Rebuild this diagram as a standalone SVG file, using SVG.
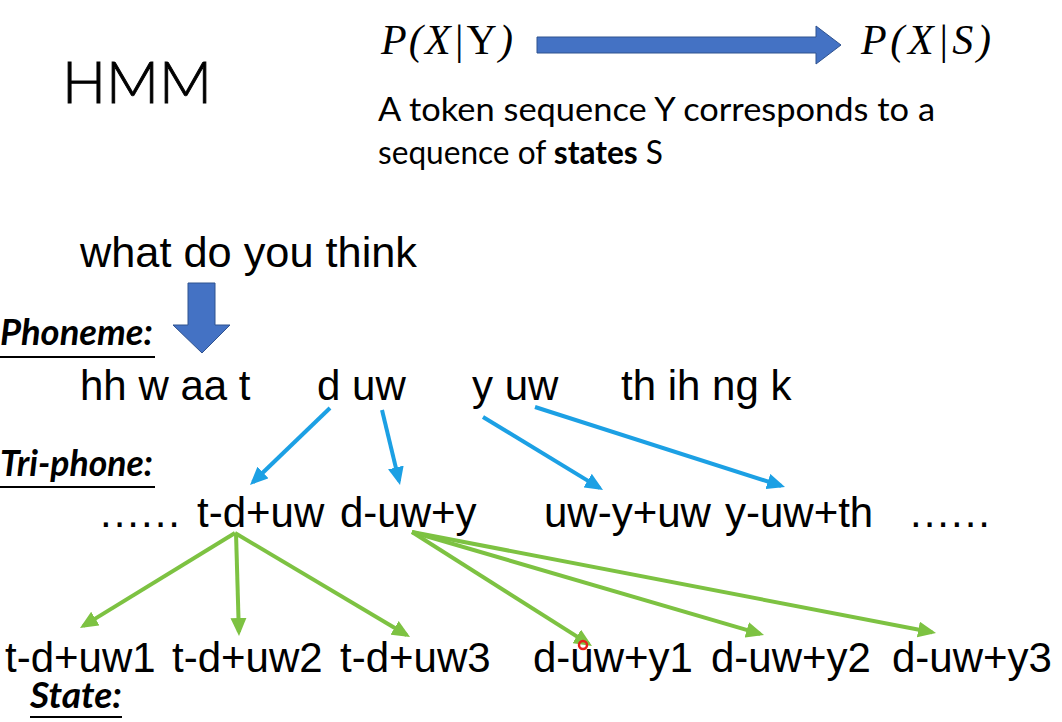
<svg xmlns="http://www.w3.org/2000/svg" width="1062" height="722" viewBox="0 0 1062 722">
<style>
.ar{font-family:"Liberation Sans",Arial,sans-serif;font-size:42px;fill:#000}
.cal{font-family:Lato,"Open Sans",sans-serif;fill:#000}
.lab{font-family:Lato,"Open Sans",sans-serif;font-size:36px;font-weight:bold;font-style:italic;fill:#000}
.math{font-family:"Liberation Serif","Times New Roman",serif;font-size:42px;font-style:italic;fill:#000}
.blue{stroke:#1CA0E4;stroke-width:4;fill:none;marker-end:url(#hb)}
.green{stroke:#7DC242;stroke-width:4;fill:none;marker-end:url(#hg)}
.big{fill:#4472C4;stroke:#2F528F;stroke-width:1}
</style>
<defs>
<marker id="hb" markerUnits="userSpaceOnUse" markerWidth="18" markerHeight="16" refX="14" refY="8" orient="auto"><path d="M0,0 L18,8 L0,16 z" fill="#1CA0E4"/></marker>
<marker id="hg" markerUnits="userSpaceOnUse" markerWidth="18" markerHeight="16" refX="14" refY="8" orient="auto"><path d="M0,0 L18,8 L0,16 z" fill="#7DC242"/></marker>
</defs>
<rect width="1062" height="722" fill="#fff"/>
<g id="title"><text class="cal" x="62" y="103" font-size="58" font-weight="300" stroke="#000" stroke-width="0.9" textLength="150" lengthAdjust="spacingAndGlyphs">HMM</text></g>
<g id="pxy"><text class="math" x="381" y="54" textLength="132" lengthAdjust="spacing">P(X|<tspan font-style="normal">Y</tspan>)</text></g>
<g id="pxs"><text class="math" x="861" y="54" textLength="130" lengthAdjust="spacing">P(X|S)</text></g>
<g id="top-arrow"><polygon class="big" points="537,37 816,37 816,26 841,45 816,64 816,53 537,53"/></g>
<g id="desc">
<text class="cal" x="378" y="121" font-size="32" textLength="557" lengthAdjust="spacingAndGlyphs">A token sequence Y corresponds to a</text>
<text class="cal" x="378" y="164" font-size="32" textLength="285" lengthAdjust="spacingAndGlyphs">sequence of <tspan font-weight="bold">states</tspan> S</text>
</g>
<g id="sentence"><text class="ar" x="80" y="267" textLength="337" lengthAdjust="spacingAndGlyphs">what do you think</text></g>
<g id="down-arrow"><polygon class="big" points="188,283 215,283 215,325 230,325 202,353 173,325 188,325"/></g>
<g id="label-phoneme"><text class="lab" x="0" y="345" textLength="153" lengthAdjust="spacingAndGlyphs">Phoneme:</text><rect x="0" y="356" width="155" height="2"/></g>
<g id="label-triphone"><text class="lab" x="0" y="476" textLength="153" lengthAdjust="spacingAndGlyphs">Tri-phone:</text><rect x="0" y="486" width="155" height="2"/></g>
<g id="label-state"><text class="lab" x="30" y="708" font-size="34" textLength="92" lengthAdjust="spacingAndGlyphs">State:</text><rect x="30" y="716" width="92" height="2"/></g>
<g id="ph-hhwaat"><text class="ar" x="80" y="400">hh w aa t</text></g>
<g id="ph-duw"><text class="ar" x="317" y="400">d uw</text></g>
<g id="ph-yuw"><text class="ar" x="472" y="400">y uw</text></g>
<g id="ph-thihngk"><text class="ar" x="621" y="400">th ih ng k</text></g>
<g id="tri-dots1"><text class="ar" x="100" y="527" textLength="80" lengthAdjust="spacing">......</text></g>
<g id="tri-tduw"><text class="ar" x="197" y="527">t-d+uw</text></g>
<g id="tri-duwy"><text class="ar" x="340" y="527">d-uw+y</text></g>
<g id="tri-uwyuw"><text class="ar" x="544" y="527">uw-y+uw</text></g>
<g id="tri-yuwth"><text class="ar" x="725" y="527">y-uw+th</text></g>
<g id="tri-dots2"><text class="ar" x="910" y="527" textLength="80" lengthAdjust="spacing">......</text></g>
<g id="st-tduw1"><text class="ar" x="5" y="672">t-d+uw1</text></g>
<g id="st-tduw2"><text class="ar" x="172" y="672">t-d+uw2</text></g>
<g id="st-tduw3"><text class="ar" x="340" y="672">t-d+uw3</text></g>
<g id="st-duwy1"><text class="ar" x="533" y="672">d-uw+y1</text></g>
<g id="st-duwy2"><text class="ar" x="711" y="672">d-uw+y2</text></g>
<g id="st-duwy3"><text class="ar" x="892" y="672">d-uw+y3</text></g>
<g id="connectors">
<line class="blue" x1="330" y1="408" x2="252.9" y2="482.2"/>
<line class="blue" x1="382" y1="410" x2="399.1" y2="481.1"/>
<line class="blue" x1="483" y1="417" x2="599.6" y2="487.9"/>
<line class="blue" x1="535" y1="407" x2="781.2" y2="485.8"/>
<line class="green" x1="235" y1="533" x2="83.4" y2="625.9"/>
<line class="green" x1="236" y1="533" x2="238.9" y2="632"/>
<line class="green" x1="235" y1="533" x2="406.6" y2="635"/>
<line class="green" x1="412" y1="532" x2="588.6" y2="643.9"/>
<line class="green" x1="412" y1="532" x2="760.2" y2="633.9"/>
<line class="green" x1="412" y1="532" x2="932.1" y2="632.2"/>
</g>
<g id="pointer"><circle cx="583" cy="645" r="4" fill="none" stroke="#E8201A" stroke-width="2.5"/></g>
</svg>
